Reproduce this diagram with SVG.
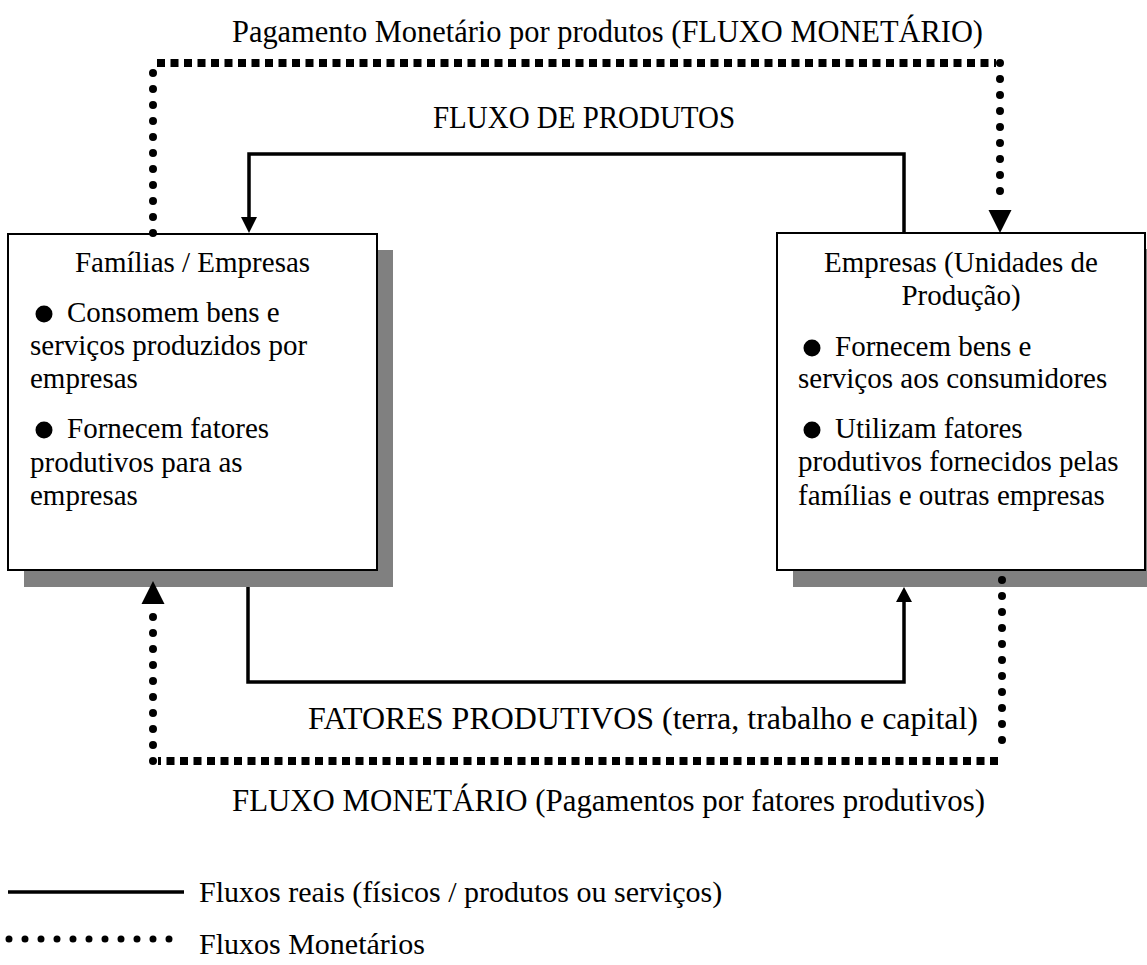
<svg xmlns="http://www.w3.org/2000/svg" width="1147" height="965" viewBox="0 0 1147 965">
  <style>
    text { font-family: "Liberation Serif", "Times New Roman", serif; fill: #000; }
    .box { fill: #fff; stroke: #000; stroke-width: 2; }
    .shadow { fill: #808080; }
    .node-text { font-size: 29px; }
    .label { font-size: 31px; }
    .legend-text { font-size: 30px; }
    .real { fill: none; stroke: #000; stroke-width: 3.5; stroke-linejoin: miter; }
    .money-v { fill: none; stroke: #000; stroke-width: 8; stroke-linecap: round; stroke-dasharray: 0 16; }
    .money-h { fill: none; stroke: #000; stroke-width: 8; stroke-linecap: butt; stroke-dasharray: 8 5.5; }
    .bullet { fill: #000; }
    .head { fill: #000; }
  </style>

  <rect width="1147" height="965" fill="#fff"/>

  <!-- Households node -->
  <g id="familias">
    <rect class="shadow" x="24" y="250" width="369" height="337"/>
    <rect class="box" x="8" y="234" width="369" height="336"/>
    <text class="node-text" x="192.5" y="272" text-anchor="middle">Famílias / Empresas</text>
    <circle class="bullet" cx="44" cy="314" r="8.5"/>
    <text class="node-text" x="67" y="322">Consomem bens e</text>
    <text class="node-text" x="30" y="355">serviços produzidos por</text>
    <text class="node-text" x="30" y="388">empresas</text>
    <circle class="bullet" cx="44" cy="430" r="8.5"/>
    <text class="node-text" x="67" y="438">Fornecem fatores</text>
    <text class="node-text" x="30" y="472">produtivos para as</text>
    <text class="node-text" x="30" y="505">empresas</text>
  </g>

  <!-- Firms node -->
  <g id="empresas">
    <rect class="shadow" x="793" y="249" width="369" height="338"/>
    <rect class="box" x="777" y="233" width="368" height="337"/>
    <text class="node-text" x="961" y="272" text-anchor="middle">Empresas (Unidades de</text>
    <text class="node-text" x="961" y="305" text-anchor="middle">Produção)</text>
    <circle class="bullet" cx="812" cy="348" r="8.5"/>
    <text class="node-text" x="835" y="356">Fornecem bens e</text>
    <text class="node-text" x="798" y="388">serviços aos consumidores</text>
    <circle class="bullet" cx="812" cy="430" r="8.5"/>
    <text class="node-text" x="835" y="438">Utilizam fatores</text>
    <text class="node-text" x="798" y="471">produtivos fornecidos pelas</text>
    <text class="node-text" x="798" y="505">famílias e outras empresas</text>
  </g>

  <!-- Flows between the two sectors -->
  <g id="connectors">
    <!-- product flow: firms -> households -->
    <path class="real" d="M904 233 V154 H249 V218"/>
    <polygon class="head" points="241,217 257,217 249,233"/>

    <!-- factor flow: households -> firms -->
    <path class="real" d="M248 587 V682 H904 V601"/>
    <polygon class="head" points="896,602 912,602 904,587"/>

    <!-- money for products: households -> firms -->
    <path class="money-v" d="M153 233 V63"/>
    <path class="money-h" d="M157 63 H996"/>
    <path class="money-v" d="M1000 63 V207"/>
    <polygon class="head" points="988.5,210 1011.5,210 1000,233"/>

    <!-- money for factors: firms -> households -->
    <path class="money-v" d="M1002 580 V756"/>
    <path class="money-h" d="M998 761 H158"/>
    <path class="money-v" d="M153 761 V607"/>
    <polygon class="head" points="141.5,604 164.5,604 153,581"/>
  </g>

  <!-- Flow labels -->
  <g id="labels">
    <text class="label" x="232" y="42" textLength="751" lengthAdjust="spacingAndGlyphs">Pagamento Monetário por produtos (FLUXO MONETÁRIO)</text>
    <text class="label" x="433" y="128" textLength="302" lengthAdjust="spacingAndGlyphs">FLUXO DE PRODUTOS</text>
    <text class="label" x="308" y="729" textLength="670" lengthAdjust="spacingAndGlyphs">FATORES PRODUTIVOS (terra, trabalho e capital)</text>
    <text class="label" x="232" y="811" textLength="753" lengthAdjust="spacingAndGlyphs">FLUXO MONETÁRIO (Pagamentos por fatores produtivos)</text>
  </g>

  <!-- Legend -->
  <g id="legend">
    <line class="real" x1="8" y1="892" x2="184" y2="892"/>
    <text class="legend-text" x="199" y="902">Fluxos reais (físicos / produtos ou serviços)</text>
    <path d="M9 939 H170" fill="none" stroke="#000" stroke-width="7" stroke-linecap="round" stroke-dasharray="0 16"/>
    <text class="legend-text" x="199" y="954">Fluxos Monetários</text>
  </g>
</svg>
